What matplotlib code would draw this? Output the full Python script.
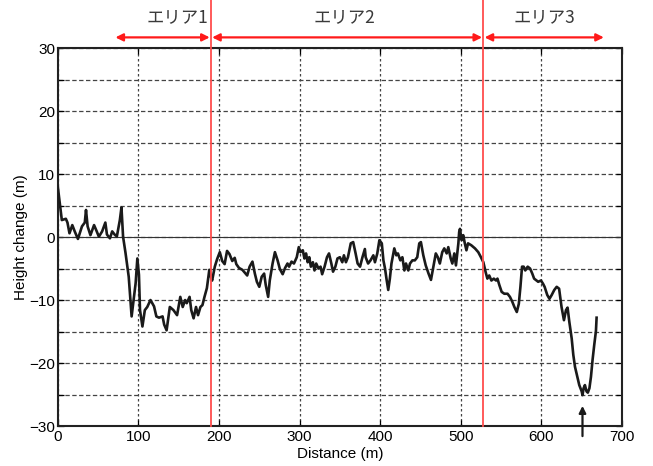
import matplotlib.pyplot as plt
from matplotlib.ticker import MultipleLocator

distance = [0, 2.5, 5, 10, 12, 14.5, 18, 21, 25, 30, 33.5, 35, 37, 40.5, 45, 48, 51, 55, 59, 61,
            64.7, 67.5, 70.5, 73.3, 77, 79, 81, 84, 88, 91.6, 94.5, 96.6, 98.7, 100.7, 102, 105,
            108, 111, 115, 119.4, 122.3, 125.5, 130, 132, 135, 139, 143.5, 148, 152, 155, 158,
            160, 163.5, 165.6, 168.5, 171.5, 174, 177, 179.5, 182, 185, 188, 190.6, 191.5, 194.8,
            197.7, 201, 204, 207, 210, 213, 216.5, 219.5, 221.5, 224.8, 229, 233, 235, 238, 241.5,
            244.5, 247, 250, 253, 256, 258, 261, 263, 266.5, 269.4, 272.7, 275.6, 279, 282, 285,
            287, 290, 293, 296.5, 299, 301, 304, 306, 308, 310, 312, 314, 316.5, 318.5, 320.6,
            323.5, 326, 328, 331, 334, 336.5, 339.4, 341.5, 344.4, 347, 350, 353, 355, 357.5, 360,
            363.5, 366.5, 369.5, 372, 375, 378, 381, 382, 385, 388, 391.5, 393.5, 396.4, 399, 402,
            404, 406, 408, 410, 412, 414, 417.5, 420, 422, 425, 427.5, 430, 432, 434.9, 437, 440,
            443, 446, 448.5, 450.5, 453.5, 456.5, 460, 463, 466, 469, 471.5, 474, 477, 479.5,
            482.5, 484.5, 487.5, 489.5, 492, 494, 497, 498, 499, 501, 503, 505, 507, 509, 513,
            517.6, 521.7, 525, 528, 530.9, 533, 535.3, 538, 541, 543.7, 545.5, 547.8, 550.7, 554,
            558, 561, 564, 566.5, 569.5, 572, 574, 576, 578, 580, 583, 586, 588.7, 591, 594, 596,
            599.5, 602, 604, 607.3, 610, 612.8, 616, 619, 622, 625, 628, 630.5, 632.5, 634.6,
            637.6, 639.6, 641.7, 644.6, 647, 650, 651, 652.4, 654, 656, 657.6, 659.6, 661.5,
            663.5, 665.6, 667.7, 668.5]
height = [8.0, 5.4, 2.7, 2.9, 2.3, 0.6, 1.9, 0.9, -0.3, 1.7, 2.3, 4.3, 1.7, 0.3, 1.9, 1.0, 0.05, 0.9, 2.3, 0.4,
          -0.2, 0.9, 0.4, 0.1, 2.7, 4.7, 0.05, -2.5, -6.3, -12.6, -9.5, -7.3, -3.4, -6.0, -11.6, -14.2,
          -11.6, -11.1, -10.0, -11.0, -12.6, -12.8, -12.6, -13.9, -14.8, -11.1, -11.6, -12.4, -9.5, -11.1, -10.0,
          -10.5, -9.5, -11.6, -12.9, -11.1, -12.4, -11.1, -10.8, -9.5, -8.1, -5.2, -6.6, -6.9, -4.7,
          -3.5, -2.4, -3.8, -4.3, -2.2, -2.7, -3.8, -3.3, -4.3, -4.9, -5.2, -5.8, -6.1, -4.7, -3.9,
          -5.8, -7.1, -7.9, -6.3, -5.8, -7.6, -9.5, -6.9, -4.2, -2.4, -3.7, -5.1, -5.9, -4.9, -4.2,
          -4.7, -3.9, -4.2, -3.2, -1.6, -2.4, -2.1, -3.4, -2.6, -4.0, -3.2, -4.7, -4.0, -5.3, -4.2,
          -5.0, -4.7, -5.9, -4.7, -3.2, -2.6, -4.2, -5.5, -4.7, -3.4, -3.2, -4.0, -2.9, -4.0, -3.2,
          -1.0, -0.8, -2.6, -4.2, -4.7, -3.2, -1.9, -3.2, -4.2, -3.7, -2.9, -4.0, -2.6, -0.5, -1.0,
          -3.7, -5.0, -6.8, -8.4, -6.6, -4.2, -1.8, -2.9, -2.6, -3.7, -3.2, -5.3, -4.2, -5.3, -4.2, -3.7,
          -3.7, -3.2, -1.0, -0.8, -2.9, -4.5, -5.8, -6.8, -4.7, -2.6, -3.2, -4.2, -2.4, -1.8,
          -2.6, -1.6, -3.4, -4.2, -2.6, -4.5, -1.0, 0.8, 1.3, -0.5, 0.3, -1.0, -2.1, -1.0, -1.3,
          -1.8, -2.4, -3.2, -4.0, -5.6, -6.6, -6.1, -6.9, -6.6, -6.9, -6.6, -7.6, -8.7, -9.0,
          -9.0, -9.5, -10.3, -11.1, -11.9, -10.6, -7.9, -4.7, -4.7, -5.3, -4.7, -5.0, -5.8, -6.6, -6.9, -7.1,
          -6.9, -7.4, -7.9, -9.2, -9.8, -9.2, -8.4, -7.9, -8.2, -11.1, -13.2, -11.6, -11.2, -13.4,
          -16.1, -18.7, -20.6, -22.2, -23.5, -24.5, -25.1, -24.0, -23.5, -24.5, -24.7, -24.0, -22.2,
          -19.5, -17.1, -14.9, -12.8]

area_names = ["エリア1", "エリア2", "エリア3"]
area_bounds = [70, 190, 528, 679]
arrow_x = 651

plt.rcParams['font.family'] = ['Liberation Sans', 'DejaVu Sans']

fig = plt.figure(figsize=(6.53, 4.66), dpi=100)
ax = fig.add_axes([0.0885, 0.0858, 0.864, 0.811])

ax.plot(distance, height, color="#1a1a1a", lw=1.9, zorder=3)
ax.axhline(0, color="#333333", lw=0.8, zorder=2)

ax.set_xlim(0, 700)
ax.set_ylim(-30, 30)
ax.xaxis.set_major_locator(MultipleLocator(100))
ax.yaxis.set_major_locator(MultipleLocator(10))
ax.yaxis.set_minor_locator(MultipleLocator(5))
ax.grid(axis="x", which="major", color="#444444", lw=0.9, linestyle=(0, (2, 2)))
ax.grid(axis="y", which="both", color="#444444", lw=0.9, linestyle=(0, (3.5, 2)))
ax.tick_params(which="both", direction="in", top=True, right=True, labelsize=11, length=4, width=0.9, pad=2)
ax.tick_params(axis="x", pad=3)
for s in ax.spines.values():
    s.set_linewidth(1.5)
    s.set_color("#222222")

ax.set_xlabel("Distance (m)", fontsize=11, labelpad=2)
ax.set_ylabel("Height change (m)", fontsize=11, labelpad=1)

# area boundaries, arrows and labels
label_x = [148, 356, 604]
for xb in area_bounds[1:3]:
    ax.plot([xb, xb], [-30, 38], color="#ff4d4d", lw=1.3, clip_on=False, zorder=4)
for i, name in enumerate(area_names):
    x0, x1 = area_bounds[i], area_bounds[i + 1]
    ax.annotate("", xy=(x0 + 1.5, 31.7), xytext=(x1 - 1.5, 31.7), annotation_clip=False,
                arrowprops=dict(arrowstyle="<|-|>", color="#ff1a1a", lw=1.6,
                                mutation_scale=11, shrinkA=0, shrinkB=0))
    ax.text(label_x[i], 34.9, name, ha="center", va="center", fontsize=12.5,
            color="#3a3a3a", family=['Noto Sans CJK JP', 'DejaVu Sans'])

ax.annotate("", xy=(arrow_x, -26.8), xytext=(arrow_x, -31.6), annotation_clip=False,
            arrowprops=dict(arrowstyle="-|>", color="#1a1a1a", lw=1.6,
                            mutation_scale=10, shrinkA=0, shrinkB=0))

fig.savefig("out.png", dpi=100)
